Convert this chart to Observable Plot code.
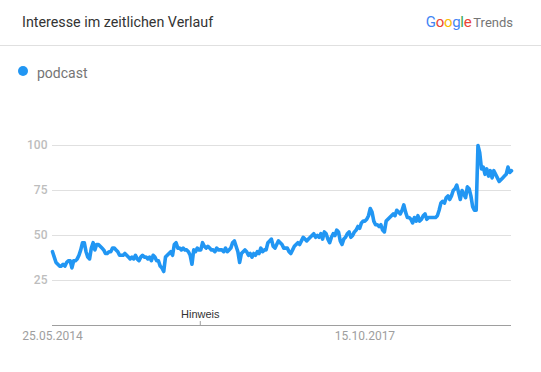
<!DOCTYPE html>
<html><head><meta charset="utf-8">
<script src="https://cdn.jsdelivr.net/npm/d3@7"></script>
<script src="https://cdn.jsdelivr.net/npm/@observablehq/plot@0.6"></script>
<style>
body{margin:0;background:#fff;font-family:Roboto,sans-serif;}
#wrap{position:relative;width:541px;height:372px;overflow:hidden;background:#fff;}
#title{position:absolute;left:22px;top:15px;font-size:14.3px;line-height:15px;color:#333;white-space:nowrap;}
#logo{position:absolute;right:28px;top:15px;line-height:15px;white-space:nowrap;display:flex;align-items:baseline;}
#logo .g{font-size:15px;letter-spacing:-0.3px;}
#logo .t{font-size:13px;color:#757575;margin-left:2px;}
#divider{position:absolute;left:0;top:45px;width:541px;height:1px;background:#e0e0e0;}
#dot{position:absolute;left:18px;top:66px;width:10px;height:10px;border-radius:50%;}
#leg{position:absolute;left:37px;top:66px;font-size:14px;line-height:14px;color:#757575;}
#chart{position:absolute;left:0;top:90px;}
</style></head>
<body><div id="wrap">
<div id="title"></div>
<div id="logo"></div>
<div id="divider"></div>
<div id="dot"></div><div id="leg"></div>
<div id="chart"></div>
</div>
<script>
const titleText = "Interesse im zeitlichen Verlauf";
const seriesName = "podcast";
const seriesColor = "#2196f3";
const startDate = "2014-05-25";
const values = [
41,38,35,34,33,33,34,33,35,36,36,32,36,36,37,39,42,46,46,41,38,37,43,46,42,45,45,44,43,42,40,40,41,41,43,43,42,41,39,39,39,40,39,38,37,
38,37,39,37,36,38,39,38,38,37,38,36,39,38,36,36,33,32,30,38,39,40,41,39,45,46,43,43,42,43,42,42,41,39,34,42,41,43,42,42,46,44,43,44,
43,42,42,41,43,42,42,42,41,43,41,42,43,46,47,44,41,35,40,41,42,41,39,40,38,40,39,41,40,43,41,42,42,46,47,48,44,43,45,47,46,45,43,43,
43,41,40,42,44,45,46,45,47,49,48,47,48,49,50,51,49,50,49,51,48,52,51,48,46,49,51,50,53,52,47,45,48,49,51,52,49,50,52,53,55,54,57,58,58,
59,61,65,63,58,56,56,55,56,53,52,58,59,60,61,62,61,64,63,62,64,67,63,60,60,59,57,60,58,61,58,59,61,62,59,60,60,60,60,60,61,64,68,69,
68,71,72,70,72,75,76,78,74,70,75,73,71,77,76,72,66,64,64,100,96,87,88,84,87,83,86,82,86,84,82,80,81,82,83,84,88,85,86
];
const yTicks = [25, 50, 75, 100];
const xTickDates = ["2014-05-25", "2017-10-15"];
const noteDates = ["2016-01-01"];
const noteLabels = ["Hinweis"];
const logoLetters = ["G","o","o","g","l","e"];
const logoColors = ["#4285F4","#EA4335","#FBBC05","#4285F4","#34A853","#EA4335"];
const logoSuffix = "Trends";

document.getElementById("title").textContent = titleText;
document.getElementById("logo").innerHTML =
  '<span class="g">' + logoLetters.map((l,i)=>`<span style="color:${logoColors[i]}">${l}</span>`).join("") +
  '</span><span class="t">' + logoSuffix + '</span>';
document.getElementById("dot").style.background = seriesColor;
document.getElementById("leg").textContent = seriesName;

const start = new Date(startDate + "T00:00:00Z");
const data = values.map((v, i) => ({date: d3.utcWeek.offset(start, i), value: v}));
const xt = xTickDates.map(s => new Date(s + "T00:00:00Z"));
const notes = noteDates.map((s, i) => ({date: new Date(s + "T00:00:00Z"), label: noteLabels[i]}));

const chart = Plot.plot({
  width: 541, height: 282,
  marginTop: 55, marginBottom: 47, marginLeft: 52, marginRight: 30,
  style: {fontFamily: "Roboto, sans-serif", fontSize: "12px", background: "transparent"},
  x: {type: "utc", domain: [data[0].date, data[data.length-1].date], axis: null},
  y: {domain: [0, 100], axis: null},
  marks: [
    Plot.gridY(yTicks, {stroke: "#e0e0e0", strokeOpacity: 1}),
    Plot.axisY(yTicks, {tickSize: 0, tickPadding: 5, fill: "#bdbdbd", fontWeight: 500, label: null}),
    Plot.ruleY([0], {stroke: "#9e9e9e"}),
    Plot.axisX(xt, {tickSize: 0, tickPadding: 6, fill: "#9e9e9e", label: null, tickFormat: d3.utcFormat("%d.%m.%Y")}),
    Plot.ruleX(notes, {x: "date", y1: 0, y2: 2.2, stroke: "#9e9e9e"}),
    Plot.text(notes, {x: "date", y: 0, text: "label", dy: -11, fill: "#333", fontSize: 11, fontFamily: "Liberation Sans, Arial, sans-serif"}),
    Plot.line(data, {x: "date", y: "value", stroke: seriesColor, strokeWidth: 3.6, strokeLinejoin: "round"})
  ]
});
document.getElementById("chart").appendChild(chart);
</script>
</body></html>
